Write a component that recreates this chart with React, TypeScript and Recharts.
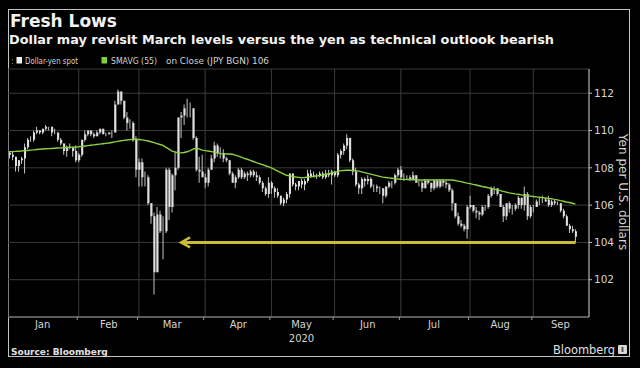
import { ComposedChart, Bar, Line, XAxis, YAxis, CartesianGrid, ReferenceLine } from "recharts";

const monthNames = ["Jan", "Feb", "Mar", "Apr", "May", "Jun", "Jul", "Aug", "Sep"];

// trading days (weekdays) per month, Sep padded to the axis end
const janDays = [1, 2, 3, 6, 7, 8, 9, 10, 13, 14, 15, 16, 17, 20, 21, 22, 23, 24, 27, 28, 29, 30, 31];
const febDays = [3, 4, 5, 6, 7, 10, 11, 12, 13, 14, 17, 18, 19, 20, 21, 24, 25, 26, 27, 28];
const marDays = [2, 3, 4, 5, 6, 9, 10, 11, 12, 13, 16, 17, 18, 19, 20, 23, 24, 25, 26, 27, 30, 31];
const aprDays = [1, 2, 3, 6, 7, 8, 9, 10, 13, 14, 15, 16, 17, 20, 21, 22, 23, 24, 27, 28, 29, 30];
const mayDays = [1, 4, 5, 6, 7, 8, 11, 12, 13, 14, 15, 18, 19, 20, 21, 22, 25, 26, 27, 28, 29];
const junDays = [1, 2, 3, 4, 5, 8, 9, 10, 11, 12, 15, 16, 17, 18, 19, 22, 23, 24, 25, 26, 29, 30];
const julDays = [1, 2, 3, 6, 7, 8, 9, 10, 13, 14, 15, 16, 17, 20, 21, 22, 23, 24, 27, 28, 29, 30, 31];
const augDays = [3, 4, 5, 6, 7, 10, 11, 12, 13, 14, 17, 18, 19, 20, 21, 24, 25, 26, 27, 28, 31];
const sepDays = [1, 2, 3, 4, 7, 8, 9, 10, 11, 14, 15, 16, 17, 18, 21, 22, 23, 24, 25];

// dollar-yen spot [open, high, low, close]
const janSpot = [
  [108.8, 108.9, 108.5, 108.7], [108.7, 108.9, 108.4, 108.6], [108.6, 108.6, 107.8, 108.1],
  [108.1, 108.4, 107.8, 108.4], [108.4, 108.6, 108.2, 108.5], [108.5, 109.3, 107.7, 109.1],
  [109.1, 109.6, 109.0, 109.5], [109.5, 109.7, 109.4, 109.5], [109.5, 110.0, 109.4, 109.9],
  [109.9, 110.2, 109.8, 110.0], [110.0, 110.0, 109.8, 109.9], [109.9, 110.1, 109.8, 110.1],
  [110.1, 110.3, 110.0, 110.2], [110.2, 110.2, 110.0, 110.2], [110.2, 110.2, 109.7, 109.9],
  [109.9, 110.1, 109.8, 109.9], [109.9, 109.9, 109.4, 109.5], [109.5, 109.6, 109.2, 109.3],
  [109.3, 109.3, 108.7, 108.9], [108.9, 109.2, 108.6, 109.1], [109.1, 109.3, 109.0, 109.1],
  [109.1, 109.1, 108.6, 108.9], [108.9, 109.2, 108.3, 108.4],
];
const febSpot = [
  [108.4, 108.8, 108.3, 108.7], [108.7, 109.5, 108.6, 109.5], [109.5, 110.0, 109.4, 109.8],
  [109.8, 110.0, 109.7, 110.0], [110.0, 110.0, 109.7, 109.8], [109.8, 109.9, 109.6, 109.7],
  [109.7, 110.0, 109.7, 109.9], [109.9, 110.1, 109.8, 110.1], [110.1, 110.1, 109.8, 109.8],
  [109.8, 109.9, 109.7, 109.8], [109.8, 109.9, 109.8, 109.9], [109.9, 110.0, 109.6, 109.9],
  [109.9, 111.6, 109.9, 111.4], [111.4, 112.2, 111.4, 112.1], [112.1, 112.1, 111.4, 111.6],
  [111.6, 111.6, 110.6, 110.7], [110.7, 111.0, 110.0, 110.4], [110.4, 110.6, 110.1, 110.4],
  [110.4, 110.5, 109.4, 109.5], [109.5, 109.7, 107.5, 107.9],
];
const marSpot = [
  [107.9, 108.5, 107.0, 108.3], [108.3, 108.5, 107.0, 107.5], [107.5, 107.8, 107.0, 107.5],
  [107.5, 107.6, 106.0, 106.1], [106.1, 106.1, 105.0, 105.4], [105.4, 105.6, 101.2, 102.4],
  [102.4, 105.9, 102.4, 105.5], [105.5, 105.7, 104.5, 104.6], [104.6, 105.4, 103.1, 104.6],
  [104.6, 108.0, 104.5, 107.9], [107.9, 108.0, 105.2, 105.9], [105.9, 107.7, 105.6, 107.6],
  [107.6, 108.8, 106.8, 108.0], [108.0, 110.7, 107.9, 110.7], [110.7, 111.0, 109.6, 110.8],
  [110.8, 111.4, 110.3, 111.2], [111.2, 111.7, 110.7, 111.2], [111.2, 111.5, 110.7, 111.2],
  [111.2, 111.2, 109.5, 109.6], [109.6, 109.7, 107.8, 107.9], [107.9, 108.6, 107.2, 107.8],
  [107.8, 108.7, 107.5, 107.5],
];
const aprSpot = [
  [107.5, 107.7, 106.9, 107.2], [107.2, 108.0, 107.0, 107.9], [107.9, 108.7, 107.9, 108.5],
  [108.5, 109.4, 108.3, 109.2], [109.2, 109.3, 108.6, 108.8], [108.8, 109.1, 108.5, 108.8],
  [108.8, 109.0, 108.3, 108.5], [108.5, 108.6, 108.3, 108.4], [108.4, 108.4, 107.6, 107.7],
  [107.7, 107.8, 107.2, 107.2], [107.2, 107.6, 106.9, 107.5], [107.5, 108.0, 107.4, 107.9],
  [107.9, 108.0, 107.4, 107.5], [107.5, 107.8, 107.4, 107.7], [107.7, 107.8, 107.3, 107.6],
  [107.6, 107.9, 107.5, 107.8], [107.8, 107.9, 107.5, 107.6], [107.6, 107.8, 107.3, 107.5],
  [107.5, 107.6, 107.1, 107.2], [107.2, 107.3, 106.7, 106.9], [106.9, 107.0, 106.5, 106.6],
  [106.6, 107.5, 106.4, 107.2],
];
const maySpot = [
  [107.2, 107.3, 106.6, 106.9], [106.9, 107.0, 106.4, 106.7], [106.7, 106.9, 106.4, 106.5],
  [106.5, 106.5, 106.0, 106.1], [106.1, 106.4, 105.95, 106.3], [106.3, 106.7, 106.1, 106.6],
  [106.6, 107.7, 106.4, 107.7], [107.7, 107.7, 107.0, 107.1], [107.1, 107.2, 106.8, 107.0],
  [107.0, 107.3, 106.8, 107.3], [107.3, 107.4, 106.9, 107.1], [107.1, 107.4, 106.8, 107.3],
  [107.3, 107.9, 107.2, 107.7], [107.7, 107.9, 107.5, 107.5], [107.5, 107.8, 107.5, 107.6],
  [107.6, 107.7, 107.4, 107.6], [107.6, 107.8, 107.5, 107.7], [107.7, 107.8, 107.4, 107.5],
  [107.5, 107.9, 107.4, 107.7], [107.7, 107.9, 107.5, 107.6], [107.6, 107.9, 107.1, 107.8],
];
const junSpot = [
  [107.8, 107.8, 107.5, 107.6], [107.6, 108.8, 107.5, 108.7], [108.7, 109.0, 108.5, 108.9],
  [108.9, 109.3, 108.7, 109.2], [109.2, 109.8, 109.0, 109.6], [109.6, 109.6, 108.3, 108.4],
  [108.4, 108.5, 107.6, 107.8], [107.8, 108.0, 107.0, 107.1], [107.1, 107.2, 106.6, 106.9],
  [106.9, 107.5, 106.6, 107.4], [107.4, 107.5, 107.0, 107.3], [107.3, 107.6, 107.1, 107.4],
  [107.4, 107.5, 106.9, 107.0], [107.0, 107.1, 106.7, 107.0], [107.0, 107.1, 106.7, 106.9],
  [106.9, 107.0, 106.6, 106.9], [106.9, 106.9, 106.1, 106.5], [106.5, 107.0, 106.4, 107.0],
  [107.0, 107.3, 106.9, 107.2], [107.2, 107.3, 106.9, 107.2], [107.2, 107.7, 107.1, 107.6],
  [107.6, 108.0, 107.5, 107.9],
];
const julSpot = [
  [107.9, 108.1, 107.4, 107.5], [107.5, 107.7, 107.3, 107.5], [107.5, 107.6, 107.4, 107.5],
  [107.5, 107.6, 107.3, 107.4], [107.4, 107.8, 107.4, 107.6], [107.6, 107.6, 107.2, 107.2],
  [107.2, 107.3, 107.0, 107.2], [107.2, 107.3, 106.7, 106.9], [106.9, 107.4, 106.9, 107.3],
  [107.3, 107.4, 107.1, 107.2], [107.2, 107.2, 106.7, 106.9], [106.9, 107.4, 106.8, 107.3],
  [107.3, 107.4, 106.9, 107.0], [107.0, 107.4, 106.9, 107.3], [107.3, 107.4, 107.0, 107.2],
  [107.2, 107.3, 106.9, 107.1], [107.1, 107.2, 106.7, 106.8], [106.8, 106.9, 105.7, 106.1],
  [106.1, 106.1, 105.3, 105.4], [105.4, 105.6, 104.9, 105.0], [105.0, 105.2, 104.8, 104.9],
  [104.9, 105.0, 104.6, 104.7], [104.7, 106.0, 104.2, 105.9],
];
const augSpot = [
  [105.9, 106.5, 105.8, 106.0], [106.0, 106.0, 105.6, 105.7], [105.7, 105.9, 105.3, 105.6],
  [105.6, 105.7, 105.2, 105.5], [105.5, 106.0, 105.4, 105.9], [105.9, 106.0, 105.7, 105.9],
  [105.9, 106.6, 105.8, 106.5], [106.5, 107.0, 106.4, 106.9], [106.9, 107.0, 106.6, 106.9],
  [106.9, 106.9, 106.5, 106.6], [106.6, 106.6, 105.9, 105.9], [105.9, 106.0, 105.1, 105.4],
  [105.4, 106.1, 105.2, 106.1], [106.1, 106.2, 105.6, 105.8], [105.8, 106.0, 105.5, 105.8],
  [105.8, 106.1, 105.7, 106.0], [106.0, 106.5, 105.8, 106.4], [106.4, 106.4, 105.8, 106.0],
  [106.0, 107.0, 105.7, 106.6], [106.6, 106.7, 105.2, 105.4], [105.4, 106.0, 105.3, 105.9],
];
const sepSpot = [
  [105.9, 106.0, 105.6, 105.9], [105.9, 106.3, 105.9, 106.2], [106.2, 106.4, 106.0, 106.2],
  [106.2, 106.5, 106.1, 106.2], [106.2, 106.4, 106.2, 106.3], [106.3, 106.5, 105.9, 106.0],
  [106.0, 106.3, 105.9, 106.2], [106.2, 106.3, 106.0, 106.1], [106.1, 106.2, 106.0, 106.1],
  [106.1, 106.1, 105.6, 105.7], [105.7, 105.8, 105.3, 105.4], [105.4, 105.5, 104.9, 104.9],
  [104.9, 105.0, 104.5, 104.7], [104.7, 104.9, 104.5, 104.6], [104.6, 104.7, 104.0, 104.3],
];

// SMAVG (55) on close
const janSma = [108.86, 108.87, 108.88, 108.89, 108.9, 108.92, 108.93, 108.95, 108.96, 108.98, 109.0, 109.01, 109.02, 109.03, 109.04, 109.05, 109.06, 109.07, 109.08, 109.09, 109.1, 109.11, 109.12];
const febSma = [109.13, 109.15, 109.17, 109.19, 109.21, 109.23, 109.25, 109.27, 109.29, 109.31, 109.33, 109.36, 109.39, 109.42, 109.45, 109.47, 109.49, 109.51, 109.52, 109.53];
const marSma = [109.52, 109.5, 109.47, 109.44, 109.4, 109.35, 109.3, 109.25, 109.2, 109.1, 109.0, 108.9, 108.85, 108.8, 108.8, 108.82, 108.86, 108.92, 109.0, 109.05, 109.02, 108.95];
const aprSma = [108.92, 108.9, 108.87, 108.84, 108.8, 108.76, 108.75, 108.74, 108.74, 108.73, 108.68, 108.63, 108.57, 108.51, 108.46, 108.4, 108.34, 108.28, 108.23, 108.17, 108.11, 108.06];
const maySma = [108.0, 107.92, 107.84, 107.76, 107.68, 107.6, 107.57, 107.54, 107.51, 107.49, 107.47, 107.48, 107.5, 107.52, 107.54, 107.56, 107.58, 107.6, 107.64, 107.68, 107.72];
const junSma = [107.76, 107.8, 107.85, 107.86, 107.87, 107.87, 107.86, 107.85, 107.82, 107.78, 107.74, 107.7, 107.66, 107.62, 107.58, 107.54, 107.5, 107.48, 107.46, 107.44, 107.42, 107.4];
const julSma = [107.38, 107.38, 107.37, 107.37, 107.36, 107.36, 107.35, 107.35, 107.35, 107.35, 107.35, 107.35, 107.35, 107.35, 107.35, 107.35, 107.35, 107.35, 107.32, 107.29, 107.26, 107.22, 107.18];
const augSma = [107.15, 107.11, 107.08, 107.04, 107.0, 106.97, 106.93, 106.9, 106.86, 106.82, 106.78, 106.74, 106.7, 106.66, 106.63, 106.6, 106.58, 106.55, 106.52, 106.5, 106.48];
const sepSma = [106.46, 106.44, 106.42, 106.4, 106.38, 106.36, 106.35, 106.31, 106.28, 106.24, 106.21, 106.17, 106.14, 106.1, 106.05];

const yTicks = [102, 104, 106, 108, 110, 112];
const arrowLevel = 104;
const arrowFrom = "Mar 20";
const arrowTo = "Sep 21";

const monthDays = [janDays, febDays, marDays, aprDays, mayDays, junDays, julDays, augDays, sepDays];
const monthSpot = [janSpot, febSpot, marSpot, aprSpot, maySpot, junSpot, julSpot, augSpot, sepSpot];
const monthSma = [janSma, febSma, marSma, aprSma, maySma, junSma, julSma, augSma, sepSma];

const rows = monthNames.flatMap((m, mi) =>
  monthDays[mi].map((d, di) => {
    const q = monthSpot[mi][di];
    const s = monthSma[mi][di];
    return {
      key: `${m} ${d}`,
      wick: q ? [q[2], q[1]] : null,
      body: q ? [Math.min(q[0], q[3]), Math.max(q[0], q[3])] : null,
      sma: s ?? null,
    };
  })
);

const startKeys = monthNames.slice(1).map((m, i) => `${m} ${monthDays[i + 1][0]}`);
const midKeys = monthNames.map((m, i) => `${m} ${monthDays[i][Math.floor(monthDays[i].length / 2)]}`);

const FONT = "DejaVu Sans, sans-serif";
const TEXT = "#d4d4d4";
const GRID = "#3a3a3a";

function MonthTick(props: any) {
  const { x, y, payload } = props;
  const key: string = payload.value;
  if (startKeys.includes(key)) {
    return <line x1={x - 1.5} x2={x - 1.5} y1={y} y2={y + 3} stroke="#9a9a9a" />;
  }
  const m = key.split(" ")[0];
  return (
    <g>
      <text x={x} y={y + 11} textAnchor="middle" fill={TEXT} fontSize={10} fontFamily={FONT}>
        {m}
      </text>
      {m === "May" && (
        <text x={x} y={y + 25} textAnchor="middle" fill={TEXT} fontSize={10} fontFamily={FONT}>
          2020
        </text>
      )}
    </g>
  );
}

function Arrow(props: any) {
  const { x1, y1, x2, y2 } = props;
  const color = "#cbbb35";
  return (
    <g>
      <line x1={x1} y1={y1} x2={x2} y2={y2} stroke={color} strokeWidth={3} />
      <polyline
        points={`${x1 + 9},${y1 - 5} ${x1},${y1} ${x1 + 9},${y1 + 5}`}
        fill="none"
        stroke={color}
        strokeWidth={2.5}
      />
    </g>
  );
}

export default function App() {
  return (
    <div style={{ position: "fixed", left: 0, top: 0, width: 640, height: 368, background: "#000", overflow: "hidden" }}>
      <svg width={640} height={368} style={{ position: "absolute", left: 0, top: 0 }}>
        <rect x={8.5} y={9.5} width={621} height={347} fill="none" stroke="#c4c4c4" />
        <text x={10} y={27} fill="#f2f2f2" fontSize={17} fontWeight="bold" fontFamily={FONT}>
          Fresh Lows
        </text>
        <text x={9} y={43.5} fill="#f2f2f2" fontSize={12.8} fontWeight="bold" fontFamily={FONT} textLength={545} lengthAdjust="spacingAndGlyphs">
          Dollar may revisit March levels versus the yen as technical outlook bearish
        </text>
        <text x={11} y={64} fill="#9a9a9a" fontSize={8} fontFamily={FONT}>:</text>
        <rect x={16.5} y={57} width={5.5} height={6.5} fill="#f0f0f0" />
        <text x={25} y={64} fill={TEXT} fontSize={8.5} fontFamily={FONT} textLength={53} lengthAdjust="spacingAndGlyphs">
          Dollar-yen spot
        </text>
        <rect x={101.5} y={57} width={5.5} height={6.5} fill="#7fd13b" />
        <text x={111} y={64} fill={TEXT} fontSize={8.5} fontFamily={FONT} textLength={46} lengthAdjust="spacingAndGlyphs">
          SMAVG (55)
        </text>
        <text x={166} y={64} fill={TEXT} fontSize={8.5} fontFamily={FONT} textLength={103} lengthAdjust="spacingAndGlyphs">
          on Close (JPY BGN) 106
        </text>
        <text transform="translate(623,192) rotate(90)" textAnchor="middle" dominantBaseline="central" fill={TEXT} fontSize={12} fontFamily={FONT}>
          Yen per U.S. dollars
        </text>
        <text x={11} y={354.5} fill="#e0e0e0" fontSize={9} fontWeight="bold" fontFamily={FONT}>
          Source: Bloomberg
        </text>
        <text x={553} y={354} fill="#e0e0e0" fontSize={11.5} fontFamily={FONT} textLength={62} lengthAdjust="spacingAndGlyphs">
          Bloomberg
        </text>
        <rect x={618} y={345} width={9} height={9} rx={1} fill="#d8d8d8" />
        <rect x={621.5} y={347} width={2} height={5} fill="#555" />
      </svg>
      <div style={{ position: "absolute", left: 8, top: 8 }}>
        <ComposedChart width={624} height={350} data={rows} margin={{ top: 61, right: 3, bottom: 0, left: 0 }}>
          <CartesianGrid horizontal vertical={false} stroke={GRID} />
          <CartesianGrid xAxisId="g" horizontal={false} vertical stroke={GRID} />
          <XAxis
            dataKey="key"
            ticks={[...startKeys, ...midKeys]}
            interval={0}
            tickLine={false}
            tickSize={0}
            tickMargin={0}
            height={41}
            axisLine={{ stroke: "#9a9a9a" }}
            tick={(p: any) => <MonthTick {...p} />}
          />
          <XAxis xAxisId="b" dataKey="key" hide />
          <XAxis xAxisId="g" dataKey="key" hide ticks={startKeys} interval={0} />
          <YAxis
            orientation="right"
            domain={[100, 113.3]}
            allowDataOverflow
            ticks={yTicks}
            width={40}
            tickSize={3}
            tickMargin={2}
            axisLine={{ stroke: "#bdbdbd" }}
            tickLine={{ stroke: "#bdbdbd" }}
            tick={{ fill: TEXT, fontSize: 10.5, fontFamily: FONT }}
          />
          <Bar dataKey="wick" barSize={1} fill="#c4c4c4" isAnimationActive={false} />
          <Bar xAxisId="b" dataKey="body" barSize={2} fill="#e0e0e0" isAnimationActive={false} />
          <Line dataKey="sma" stroke="#8ccf3f" strokeWidth={1.4} dot={false} type="linear" isAnimationActive={false} />
          <ReferenceLine
            segment={[{ x: arrowFrom, y: arrowLevel }, { x: arrowTo, y: arrowLevel }]}
            ifOverflow="visible"
            shape={(p: any) => <Arrow {...p} />}
          />
        </ComposedChart>
      </div>
    </div>
  );
}
